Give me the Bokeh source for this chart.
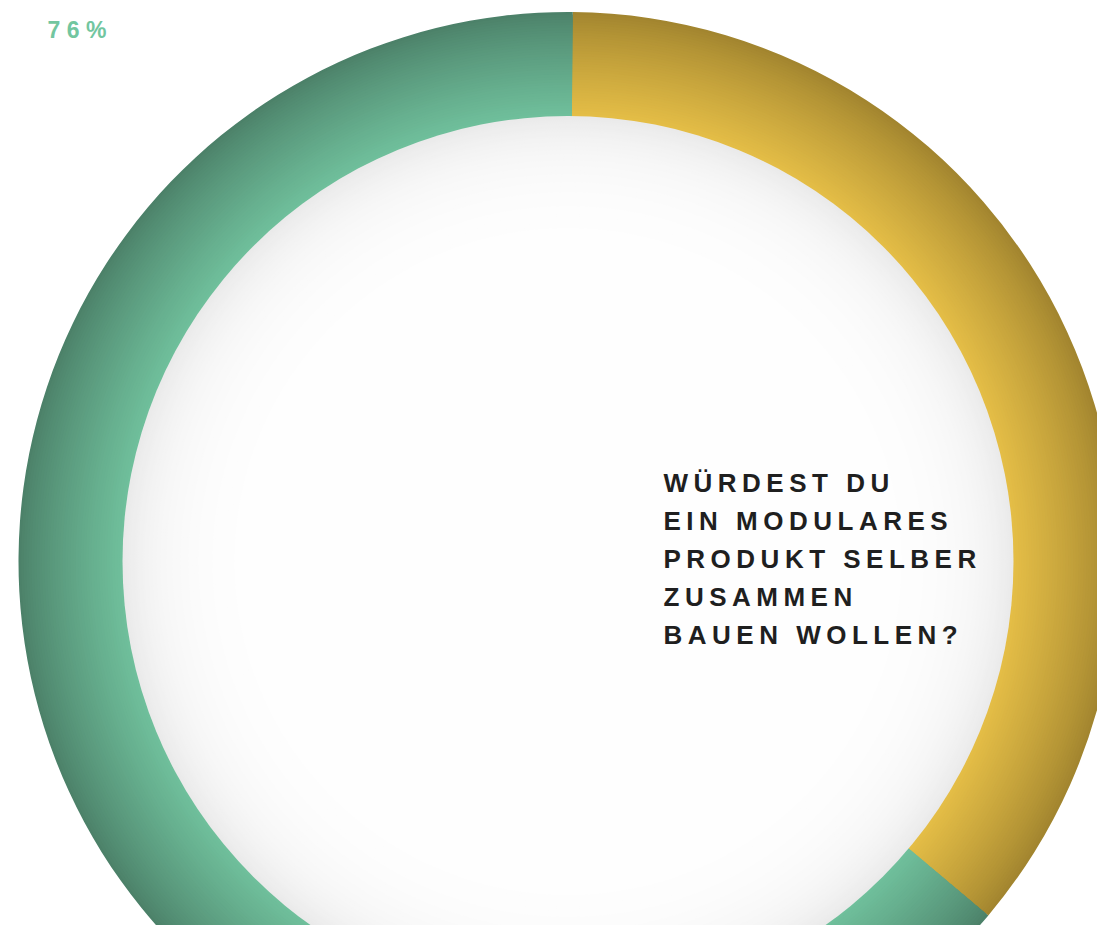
import numpy as np
from bokeh.plotting import figure
from bokeh.models import Range1d, ColumnDataSource
from bokeh.core.properties import value
from bokeh.embed import file_html
from bokeh.resources import INLINE

# ---- data ----
categories = ["Nein", "Ja"]          # clockwise from 12 o'clock
shares = [36, 64]                     # percent
seg_inner_colors = ["#e5be47", "#70c09c"]
seg_outer_colors = ["#a2852f", "#4c8169"]
big_label = "76%"
question_lines = ["WÜRDEST DU", "EIN MODULARES", "PRODUKT SELBER", "ZUSAMMEN", "BAUEN WOLLEN?"]

W, H = 1097, 925
cx, cy = 567.5, H - 561
r_out, r_in = 549.5, 445.5
rot = np.deg2rad(0.5)

p = figure(width=W, height=H, x_range=Range1d(0, W), y_range=Range1d(0, H),
           x_axis_type=None, y_axis_type=None, toolbar_location=None,
           output_backend="svg", min_border=0, outline_line_color=None,
           background_fill_color="white", border_fill_color="white")
p.grid.visible = False


def mix(c1, c2, t):
    a = [int(c1[i:i + 2], 16) for i in (1, 3, 5)]
    b = [int(c2[i:i + 2], 16) for i in (1, 3, 5)]
    return "#%02x%02x%02x" % tuple(int(round(a[k] + (b[k] - a[k]) * t)) for k in range(3))


# ring segments with radial gradient (stacked wedges, outer first)
total = float(sum(shares))
cum = np.cumsum([0] + list(shares)) / total
xs, ys, rs, sa, ea, cols = [], [], [], [], [], []
n = 40
for k in range(n + 1):
    t = k / n  # 0 outer -> 1 inner
    r = r_out - (r_out - r_in) * t
    for i, c in enumerate(categories):
        c0, c1 = cum[i], cum[i + 1]
        xs.append(cx); ys.append(cy); rs.append(r)
        sa.append(np.pi / 2 - rot - c1 * 2 * np.pi)
        ea.append(np.pi / 2 - rot - c0 * 2 * np.pi)
        cols.append(mix(seg_outer_colors[i], seg_inner_colors[i], t ** 0.85))
src = ColumnDataSource(dict(x=xs, y=ys, r=rs, s=sa, e=ea, c=cols))
p.wedge(x="x", y="y", radius="r", start_angle="s", end_angle="e",
        fill_color="c", line_color=None, source=src)

# inner white disc with soft inner shadow
ds = np.arange(0, 150, 2.0)
cr = [r_in - d for d in ds]
cc = []
for d in ds:
    g = 255 - 21 * np.exp(-d / 42.0)
    gi = int(round(g))
    cc.append("#%02x%02x%02x" % (gi, gi, gi))
p.circle(x=[cx] * len(cr), y=[cy] * len(cr), radius=cr, fill_color=cc, line_color=None)

# character widths (Liberation Sans Bold, em units)
cw = {"W": 0.944, "Ü": 0.722, "R": 0.722, "D": 0.722, "E": 0.667, "S": 0.667, "T": 0.611,
      " ": 0.278, "U": 0.722, "I": 0.278, "N": 0.722, "M": 0.833, "O": 0.778, "L": 0.611,
      "A": 0.722, "P": 0.667, "K": 0.722, "B": 0.722, "Z": 0.611, "?": 0.611,
      "7": 0.556, "6": 0.556, "%": 0.889}


def spaced(text, x0, y, fs, spacing, color):
    tx, ty, tt = [], [], []
    x = x0
    for ch in text:
        if ch != " ":
            tx.append(x); ty.append(y); tt.append(ch)
        x += cw.get(ch, 0.6) * fs + spacing
    p.text(x=tx, y=ty, text=tt, text_font=value("Liberation Sans"), text_font_style="bold",
           text_font_size="%dpx" % fs, text_color=color, text_align="left",
           text_baseline="alphabetic")


fs_q = 26
for j, line in enumerate(question_lines):
    spaced(line, 663, H - (482 + 38 * j), fs_q, 5.5, "#1f1f1f")

spaced(big_label, 47, H - 29, 23, 6.5, "#72c6a0")

open("out.html", "w").write(file_html(p, INLINE))
